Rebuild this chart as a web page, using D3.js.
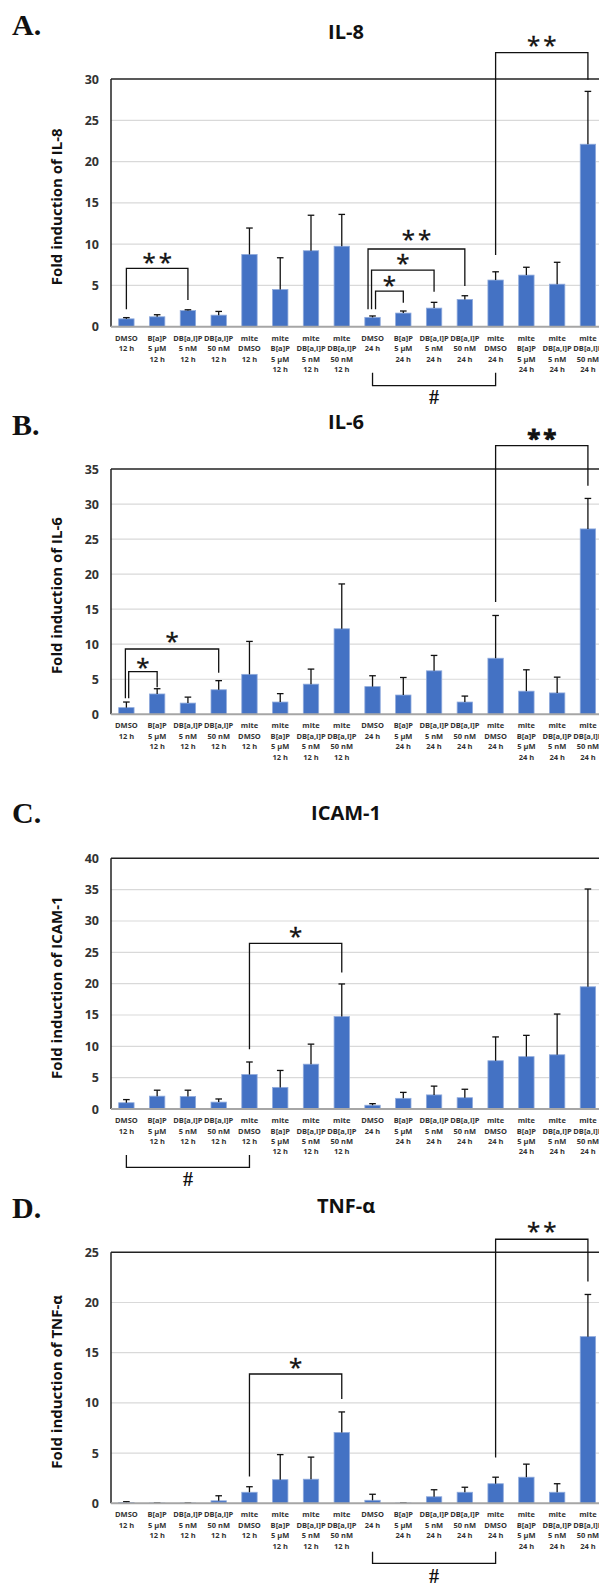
<!DOCTYPE html>
<html>
<head>
<meta charset="utf-8">
<script src="https://cdn.jsdelivr.net/npm/d3@7"></script>
<style>
  html, body { margin: 0; padding: 0; background: #fff; }
  svg { display: block; }
</style>
</head>
<body>
<svg id="chart" width="599" height="1585"></svg>
<script>
// ---------- DATA ----------
const categories = [
  ["DMSO", "12 h"],
  ["B[a]P", "5 μM", "12 h"],
  ["DB[a,l]P", "5 nM", "12 h"],
  ["DB[a,l]P", "50 nM", "12 h"],
  ["mite", "DMSO", "12 h"],
  ["mite", "B[a]P", "5 μM", "12 h"],
  ["mite", "DB[a,l]P", "5 nM", "12 h"],
  ["mite", "DB[a,l]P", "50 nM", "12 h"],
  ["DMSO", "24 h"],
  ["B[a]P", "5 μM", "24 h"],
  ["DB[a,l]P", "5 nM", "24 h"],
  ["DB[a,l]P", "50 nM", "24 h"],
  ["mite", "DMSO", "24 h"],
  ["mite", "B[a]P", "5 μM", "24 h"],
  ["mite", "DB[a,l]P", "5 nM", "24 h"],
  ["mite", "DB[a,l]P", "50 nM", "24 h"]
];

const il8Values  = [0.95, 1.2, 1.95, 1.4, 8.75, 4.5, 9.2, 9.75, 1.13, 1.65, 2.25, 3.3, 5.65, 6.25, 5.15, 22.1];
const il8Errors  = [0.15, 0.25, 0.1, 0.45, 3.2, 3.85, 4.3, 3.85, 0.17, 0.25, 0.7, 0.45, 1.0, 0.95, 2.65, 6.4];
const il8Ticks   = [0, 5, 10, 15, 20, 25, 30];

const il6Values  = [0.95, 2.9, 1.6, 3.5, 5.7, 1.75, 4.3, 12.2, 3.95, 2.75, 6.2, 1.75, 8.0, 3.3, 3.05, 26.45];
const il6Errors  = [0.8, 0.75, 0.85, 1.3, 4.7, 1.2, 2.15, 6.4, 1.55, 2.5, 2.2, 0.85, 6.1, 3.05, 2.25, 4.35];
const il6Ticks   = [0, 5, 10, 15, 20, 25, 30, 35];

const icamValues = [1.0, 2.05, 2.0, 1.1, 5.5, 3.45, 7.15, 14.75, 0.6, 1.7, 2.25, 1.8, 7.7, 8.35, 8.65, 19.5];
const icamErrors = [0.5, 0.95, 1.0, 0.5, 2.0, 2.7, 3.2, 5.2, 0.25, 0.95, 1.4, 1.35, 3.8, 3.4, 6.5, 15.6];
const icamTicks  = [0, 5, 10, 15, 20, 25, 30, 35, 40];

const tnfValues  = [0.08, 0.03, 0.03, 0.25, 1.1, 2.35, 2.4, 7.05, 0.3, 0.03, 0.65, 1.1, 1.95, 2.6, 1.1, 16.6];
const tnfErrors  = [0.08, 0.01, 0.01, 0.5, 0.55, 2.5, 2.2, 2.05, 0.6, 0.01, 0.7, 0.5, 0.65, 1.3, 0.85, 4.2];
const tnfTicks   = [0, 5, 10, 15, 20, 25];

// significance brackets: category indices, bracket top value, leg end values, label
const il8Brackets = [
  {a: 0, b: 2, top: 7.07, l: 2.1, r: 3.23, label: "**", ly: 8.3},
  {a: 8, b: 11, top: 9.41, l: 2.1, r: 4.93, label: "**", ly: 11.1, ls: -4.5},
  {a: 8, b: 10, top: 6.86, l: 2.1, r: 4.24, label: "*", ly: 8.16, ls: -1},
  {a: 8, b: 9, top: 4.32, l: 2.1, r: 2.9, label: "*", ly: 5.53, ls: 3},
  {a: 12, b: 15, top: 33.2, l: 8.68, r: 29.9, label: "**", ly: 34.6}
];
const il6Brackets = [
  {a: 0, b: 1, top: 6.09, l: 2.28, r: 3.85, label: "*", ly: 7.28, ls: 2.3},
  {a: 0, b: 3, top: 9.32, l: 2.28, r: 5.94, label: "*", ly: 10.98, ls: -1},
  {a: 12, b: 15, top: 38.33, l: 16.02, r: 32.6, label: "**", ly: 40.0, heavy: true}
];
const icamBrackets = [
  {a: 4, b: 7, top: 26.44, l: 9.52, r: 21.76, label: "*", ly: 28.3}
];
const tnfBrackets = [
  {a: 4, b: 7, top: 12.88, l: 2.66, r: 10.39, label: "*", ly: 14.0},
  {a: 12, b: 15, top: 26.3, l: 4.55, r: 22.08, label: "**", ly: 27.56}
];
const il8Hash  = {a: 8, b: 12};
const il6Hash  = null;
const icamHash = {a: 0, b: 4};
const tnfHash  = {a: 8, b: 12};

// ---------- LAYOUT ----------
const panels = [
  {letter: "A.", title: "IL-8", ylab: "Fold induction of IL-8", values: il8Values, errors: il8Errors, ticks: il8Ticks,
   brackets: il8Brackets, hash: il8Hash, top: 79, zero: 326.7, letterY: 35, titleY: 32, hashY: [59, 46, 70.5]},
  {letter: "B.", title: "IL-6", ylab: "Fold induction of IL-6", values: il6Values, errors: il6Errors, ticks: il6Ticks,
   brackets: il6Brackets, hash: il6Hash, top: 469, zero: 714.3, letterY: 435, titleY: 422, hashY: null},
  {letter: "C.", title: "ICAM-1", ylab: "Fold induction of ICAM-1", values: icamValues, errors: icamErrors, ticks: icamTicks,
   brackets: icamBrackets, hash: icamHash, top: 858.3, zero: 1109, letterY: 823, titleY: 812.5, hashY: [58.3, 46, 69.5]},
  {letter: "D.", title: "TNF-α", ylab: "Fold induction of TNF-α", values: tnfValues, errors: tnfErrors, ticks: tnfTicks,
   brackets: tnfBrackets, hash: tnfHash, top: 1252.3, zero: 1503.3, letterY: 1218, titleY: 1206, hashY: [60, 48.4, 72]}
];

const svg = d3.select("#chart");
const X0 = 111, X1 = 603.3;
const FONT = "'Open Sans', 'Liberation Sans', sans-serif";

const x = d3.scaleBand()
  .domain(d3.range(categories.length))
  .range([X0, X1])
  .paddingInner(0.5)
  .paddingOuter(0.25);
const cx = i => x(i) + x.bandwidth() / 2;

panels.forEach(p => {
  const g = svg.append("g");
  const yMax = d3.max(p.ticks);
  const y = d3.scaleLinear().domain([0, yMax]).range([p.zero, p.top]);

  // panel letter
  g.append("text").attr("x", 12).attr("y", p.letterY)
    .attr("font-family", "'Liberation Serif', 'Times New Roman', serif")
    .attr("font-weight", "bold").attr("font-size", 30).attr("fill", "#111")
    .text(p.letter);

  // title
  g.append("text").attr("x", 346).attr("y", p.titleY).attr("dy", "0.36em")
    .attr("text-anchor", "middle").attr("font-family", FONT)
    .attr("font-weight", "bold").attr("font-size", 20).attr("fill", "#111")
    .text(p.title);

  // gridlines
  g.append("g").selectAll("line").data(p.ticks.filter(t => t > 0 && t < yMax)).join("line")
    .attr("x1", X0).attr("x2", 599).attr("y1", d => y(d)).attr("y2", d => y(d))
    .attr("stroke", "#d9d9d9").attr("stroke-width", 1.2);

  // y axis tick labels
  const yAxis = d3.axisLeft(y).tickValues(p.ticks).tickSize(0).tickPadding(12).tickFormat(d3.format("d"));
  const ya = g.append("g").attr("transform", `translate(${X0},0)`).call(yAxis);
  ya.select(".domain").remove();
  ya.selectAll("text").attr("font-family", FONT).attr("font-weight", "bold")
    .attr("font-size", 12.5).attr("fill", "#333");

  // y label
  g.append("text")
    .attr("transform", `translate(57,${(p.top + p.zero) / 2 + 4}) rotate(-90)`)
    .attr("dy", "0.35em").attr("text-anchor", "middle")
    .attr("font-family", FONT).attr("font-weight", "bold").attr("font-size", 15).attr("fill", "#111")
    .text(p.ylab);

  // bars
  g.append("g").selectAll("rect").data(p.values).join("rect")
    .attr("x", (d, i) => x(i)).attr("width", x.bandwidth())
    .attr("y", d => y(d)).attr("height", d => y(0) - y(d))
    .attr("fill", "#4472c4").attr("stroke", "#8faadc").attr("stroke-width", 0.8);

  // error bars
  const eb = g.append("g").attr("stroke", "#111").attr("stroke-width", 1.3);
  p.values.forEach((v, i) => {
    const e = p.errors[i];
    eb.append("line").attr("x1", cx(i)).attr("x2", cx(i)).attr("y1", y(v)).attr("y2", y(v + e));
    eb.append("line").attr("x1", cx(i) - 3.3).attr("x2", cx(i) + 3.3).attr("y1", y(v + e)).attr("y2", y(v + e));
  });

  // frame: left axis, top line, bottom axis
  g.append("line").attr("x1", X0).attr("x2", X0).attr("y1", y(0)).attr("y2", y(yMax))
    .attr("stroke", "#222").attr("stroke-width", 1.5);
  g.append("line").attr("x1", X0).attr("x2", 599).attr("y1", y(yMax)).attr("y2", y(yMax))
    .attr("stroke", "#222").attr("stroke-width", 1.5);
  g.append("line").attr("x1", X0).attr("x2", 599).attr("y1", y(0)).attr("y2", y(0))
    .attr("stroke", "#a6a6a6").attr("stroke-width", 2);

  // category labels
  const cl = g.append("g").attr("font-family", FONT).attr("font-weight", "bold")
    .attr("font-size", 7.5).attr("fill", "#333").attr("text-anchor", "middle");
  categories.forEach((lines, i) => {
    lines.forEach((t, k) => {
      cl.append("text").attr("x", cx(i)).attr("y", p.zero + 11.5 + k * 10.4)
        .attr("dy", "0.35em").text(t);
    });
  });

  // significance brackets
  const br = g.append("g");
  p.brackets.forEach(b => {
    const xl = cx(b.a) + (b.ls || 0), xr = cx(b.b);
    br.append("path")
      .attr("d", `M${xl},${y(b.l)}V${y(b.top)}H${xr}V${y(b.r)}`)
      .attr("fill", "none").attr("stroke", "#111").attr("stroke-width", 1.3);
    const t = br.append("text")
      .attr("x", (xl + xr) / 2 + (b.label.length > 1 ? 1.5 : 0))
      .attr("y", y(b.ly) + 13)
      .attr("text-anchor", "middle").attr("font-family", FONT)
      .attr("font-size", 24).attr("fill", "#111")
      .attr("stroke", "#111").attr("stroke-width", 0.4)
      .attr("letter-spacing", b.label.length > 1 ? 3 : 0)
      .text(b.label);
    if (b.heavy) t.attr("font-weight", "bold").attr("stroke-width", 0.9);
  });

  // hash bracket below axis
  if (p.hash) {
    const xl = cx(p.hash.a), xr = cx(p.hash.b);
    g.append("path")
      .attr("d", `M${xl},${p.zero + p.hashY[1]}V${p.zero + p.hashY[0]}H${xr}V${p.zero + p.hashY[1]}`)
      .attr("fill", "none").attr("stroke", "#111").attr("stroke-width", 1.3);
    g.append("text").attr("x", (xl + xr) / 2).attr("y", p.zero + p.hashY[2]).attr("dy", "0.36em")
      .attr("text-anchor", "middle").attr("font-family", "'Liberation Serif', serif")
      .attr("font-weight", "bold").attr("font-size", 20).attr("fill", "#111")
      .text("#");
  }
});
</script>
</body>
</html>
